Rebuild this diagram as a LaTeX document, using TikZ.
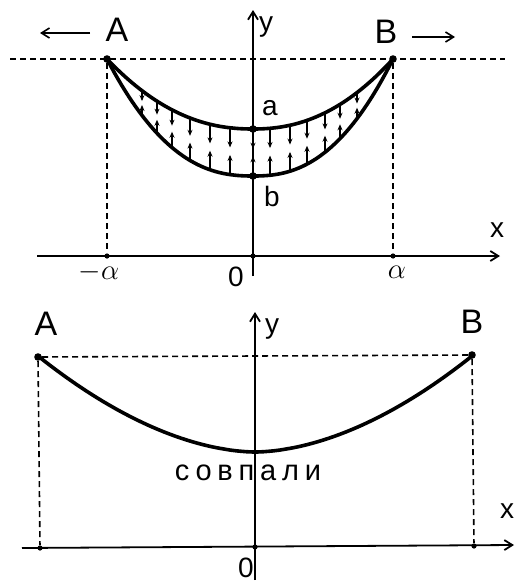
\documentclass[tikz,border=0pt]{standalone}
\usepackage{fontspec}
\setmainfont{Liberation Sans}
\newfontfamily\spacedfont[LetterSpace=20]{Liberation Sans}
\usetikzlibrary{arrows.meta}

\begin{document}
\begin{tikzpicture}[x=0.5pt,y=-0.5pt,>={Straight Barb[length=4pt,width=5pt]},
  lbl/.style={font=\fontsize{14}{16}\selectfont,inner sep=0pt},
  biglbl/.style={font=\fontsize{17}{19}\selectfont,inner sep=0pt},
  axis/.style={line width=0.9pt},
  guide/.style={line width=0.8pt,dash pattern=on 3pt off 2pt},
  curve/.style={line width=1.8pt},
  force/.style={line width=0.6pt,-{Stealth[length=3pt,width=2.5pt]}},
  pt/.style={circle,fill,inner sep=0pt,minimum size=3.8pt},
  tick/.style={circle,fill,inner sep=0pt,minimum size=2.6pt}]
\useasboundingbox (0,0) rectangle (518,584);

% upper picture: two chains between A and B
\node[pt] (A1) at (107,59) {};
\node[pt] (B1) at (393,59) {};
\node[tick] (O1) at (253,256) {};
\node[tick] (L1) at (107,256) {};
\node[tick] (R1) at (393,256) {};
\node[pt] (a1) at (253,129) {};
\node[pt] (b1) at (253,176) {};
\coordinate (xs1) at (37,256);  \coordinate (xe1) at (500,256);
\coordinate (ys1) at (253,276); \coordinate (ye1) at (253,10);
\coordinate (hl1) at (10,59);   \coordinate (hr1) at (505,59);
\draw[axis,->] (xs1) -- (xe1);
\draw[axis,->] (ys1) -- (ye1);
\draw[guide] (hl1) -- (hr1);
\draw[guide] (A1) -- (L1);
\draw[guide] (B1) -- (R1);
\draw[curve] plot[domain=107:393,samples=80]
  (\x,{129-70*((abs(\x-253)+0.01)/(\x<253?146:140))^2.2});
\draw[curve] plot[domain=107:393,samples=80]
  (\x,{176-117*((abs(\x-253)+0.01)/(\x<253?146:140))^2.4});
\foreach \x in {142,157,172,190,210,230,253,270,290,307,325,340,357}{
  \pgfmathsetmacro\yu{129-70*((abs(\x-253)+0.01)/(\x<253?146:140))^2.2}
  \pgfmathsetmacro\yl{176-117*((abs(\x-253)+0.01)/(\x<253?146:140))^2.4}
  \pgfmathsetmacro\gap{\yl-\yu}
  \draw[force] (\x,\yu) -- (\x,\yu+0.42*\gap);
  \draw[force] (\x,\yl) -- (\x,\yl-0.42*\gap);
}
\node[biglbl] (Alab1) at (117,30) {A};
\node[biglbl] (Blab1) at (386,32) {B};
\coordinate (la1) at (90,33); \coordinate (la2) at (40,33);
\coordinate (ra1) at (412,37); \coordinate (ra2) at (455,37);
\draw[line width=0.8pt,->] (la1) -- (la2);
\draw[line width=0.8pt,->] (ra1) -- (ra2);
\node[lbl] (ylab1) at (266,27) {y};
\node[lbl] (xlab1) at (497,230) {x};
\node[lbl] (alab) at (270,108) {a};
\node[lbl] (blab) at (272,196) {b};
\node[lbl] (mlab) at (99,272) {$-\alpha$};
\node[lbl] (zlab1) at (236,277) {0};
\node[lbl] (plab) at (397,272) {$\alpha$};

% lower picture: the chains coincide
\node[pt] (A2) at (38,357) {};
\node[pt] (B2) at (472,355) {};
\node[tick] (O2) at (255,547) {};
\node[tick] (L2) at (40,548) {};
\node[tick] (R2) at (474,546) {};
\coordinate (xs2) at (22,548);  \coordinate (xe2) at (514,545);
\coordinate (ys2) at (255,580); \coordinate (ye2) at (255,312);
\draw[axis,->] (xs2) -- (xe2);
\draw[axis,->] (ys2) -- (ye2);
\draw[guide] (A2) -- (B2);
\draw[guide] (A2) -- (L2);
\draw[guide] (B2) -- (R2);
\draw[curve] plot[domain=38:472,samples=80]
  (\x,{452-96*((abs(\x-255)+0.01)/217)^1.8});
\node[biglbl] (Alab2) at (46,324) {A};
\node[biglbl] (Blab2) at (472,322) {B};
\node[lbl] (ylab2) at (272,329) {y};
\node[lbl] (xlab2) at (507,511) {x};
\node[lbl] (zlab2) at (246,568) {0};
\node[inner sep=0pt,font=\spacedfont\fontsize{14.5}{17}\selectfont] (same) at (248,473) {совпали};
\end{tikzpicture}
\end{document}
